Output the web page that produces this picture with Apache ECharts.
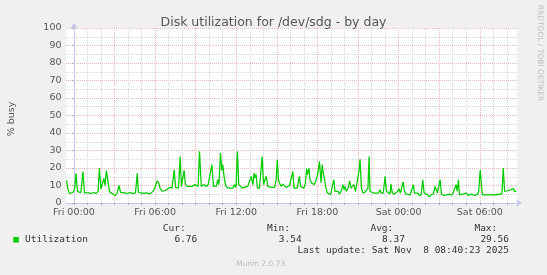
<!DOCTYPE html>
<html><head><meta charset="utf-8">
<script src="https://cdn.jsdelivr.net/npm/echarts@6/dist/echarts.min.js"></script>
<style>html,body{margin:0;padding:0;background:#f0f0f0}#c{width:547px;height:275px}</style>
</head><body><div id="c"></div>
<script>
// time in minutes from Fri 00:00, disk busy %
const minutes = [-32,-27,-20,-13,-4,0,4,9,16,22,31,40,47,53,62,71,80,89,98,107,113,120,127,133,138,144,151,158,164,173,182,191,200,207,213,222,231,240,249,258,266,273,281,286,293,
302,311,320,329,338,346,351,360,369,377,382,391,400,411,417,426,435,439,445,451,457,464,471,477,483,489,494,502,511,515,524,537,545,551,557,565,574,582,589,596,604,612,619,631,
638,643,650,656,660,666,672,678,690,697,705,712,719,725,731,737,746,756,764,771,779,786,794,799,804,808,814,823,830,835,841,845,853,860,867,875,882,890,897,902,907,912,919,927,934,941,949,956,964,971,
976,983,990,995,1000,1005,1013,1020,1027,1032,1036,1042,1047,1054,1060,1066,1072,1079,1085,1089,1096,1101,1106,1112,1116,1124,1131,1138,1146,1153,1158,1164,1171,1178,1187,1193,1198,1202,1208,1217,1223,1229,1235,1242,1249,1257,1264,1269,1275,1282,1291,1297,1304,1309,
1313,1320,1328,1337,1350,1358,1362,1372,1380,1386,1394,1402,1406,1412,1421,1427,1436,1442,1448,1454,1460,1466,1473,1480,1491,1498,1506,1510,1516,1525,1531,1540,1547,1553,1560,1569,1577,1584,1594,1602,1608,1612,1620,1624,1630,1639,1646,
1652,1658,1665,1674,1682,1689,1695,1700,1705,1710,1717,1724,1732,1741,1747,1754,1764,1771,1776,1784,1791,1795,1802,1806,1811,1821,1834,1848,1861,1874,1888,1898,1904,1910,1917,1924,1932,1939,1945,1950,1954,1962];
const busy = [13,8,5.5,5.2,6,5.5,8.5,17,6.5,5.7,6,18,5.7,5.5,6,5.5,5.7,6,5.5,6.5,20,8,7,14,10,18.5,12.5,6.5,5.5,5.2,4.2,5.5,10,6,5.5,6,5.5,5.7,6,5.5,6,5.7,17,6,5.7,
5.7,5.5,5.8,5.5,5.2,4.8,6.7,9,12.7,11.4,8.5,6.7,7,7.6,8.5,9,8.5,9.5,19,8.9,8.9,8.5,26.6,9.5,10.5,18.6,10.8,9.5,9.5,8.5,9.5,10.5,10.8,9.5,29.6,9.5,10.5,10,9.5,10.8,10.5,22,9.5,9.5,
13.3,10.5,28.6,18.6,22,15.2,10.5,8.9,8.5,9.5,8.5,10.5,8.9,29.5,10.5,9.5,8.5,8.9,8.2,9.5,8.5,15.2,10.5,17.1,14.3,16.2,8.5,8.5,9.5,26.6,10.5,12.4,15.2,9.5,8.9,8.9,8.5,8.9,13.3,24.7,13.3,11.4,9.5,10.8,10.5,8.9,9.5,10,9.5,18,
8.5,8.5,8.5,9.5,15.2,9.5,10.5,8.5,11.4,19.6,16.2,20,13.3,11.4,12,10.5,12.4,15.2,19.6,23.8,11.4,21.9,17.1,13.3,9.5,5.7,6.7,4.7,5.1,13.3,6.7,5.7,6.7,5.1,7.6,10.5,7.6,9.5,6.7,8.9,12.7,8.5,7.6,10.5,6.7,6.7,18.1,25,8.5,5.7,6.2,5.7,8.5,26.6,
6.7,5.7,5.7,5.7,5.7,7.6,5.7,5.7,15.2,6.7,5.7,5.1,10.8,5.7,5.1,5.7,6.7,8.2,5.7,6.7,12,6.7,5.1,5.7,4.7,5.7,10.5,5.7,5.1,5.7,4.4,4.7,13.3,5.7,5.1,4.7,3.54,4.7,5.1,9.5,10.5,5.7,10.8,13.3,5.1,4.4,4.7,
4.7,4.7,5.1,4.4,5.7,4.7,10.5,6.7,13.3,4.7,4.4,5.1,4.7,5.7,4.4,4.7,5.1,4.7,4.4,4.7,5.1,6.7,19,19,4.7,4.7,4.7,4.7,4.7,4.7,5.1,5.1,20,6.7,6.2,7,6.7,7.6,6.7,8.2,6.5,6.76];

const xMin = -35, xMax = 1965;
const labelMinutes = [0,360,720,1080,1440,1800];
const tickLabels = ['Fri 00:00','Fri 06:00','Fri 12:00','Fri 18:00','Sat 00:00','Sat 06:00'];
const majorMinutes = [0,180,360,540,720,900,1080,1260,1440,1620,1800];
const hourMinutes = [];
for (let m = 0; m <= 1920; m += 60) hourMinutes.push(m);

const title = 'Disk utilization for /dev/sdg - by day';
const yName = '% busy';
const seriesName = 'Utilization';
const statLabels = ['Cur:','Min:','Avg:','Max:'];
const statValues = ['6.76','3.54','8.37','29.56'];
const lastUpdate = 'Last update: Sat Nov  8 08:40:23 2025';
const credit = 'RRDTOOL / TOBI OETIKER';
const footer = 'Munin 2.0.73';

const GREEN = '#00cc00';
const RED = '#efb6b6';
const GRAY = '#d6d6d6';
const AXIS = '#c6c6ee';
const SANS = 'DejaVu Sans';
const MONO = 'DejaVu Sans Mono';

const chart = echarts.init(document.getElementById('c'), null, {renderer:'canvas'});
const grid = {left:66, top:28, width:451, height:175};

const statX = [185.7, 290, 393.3, 497.3];
const valX = [197.3, 301.7, 405, 509];
const gfx = [];
gfx.push({type:'text', x:12, y:119, rotation:Math.PI/2, style:{text:yName, font:'9.5px "'+SANS+'"', fill:'#555', align:'center', verticalAlign:'middle'}});
gfx.push({type:'text', x:539.5, y:53, rotation:-Math.PI/2, style:{text:credit, font:'7.5px "'+SANS+'"', fill:'#bdbdbd', align:'center', verticalAlign:'middle'}});
gfx.push({type:'rect', shape:{x:13.3, y:237, width:5.5, height:5.5}, style:{fill:GREEN}});
gfx.push({type:'text', x:25, y:239.5, style:{text:seriesName, font:'9.5px "'+MONO+'"', fill:'#333', align:'left', verticalAlign:'middle'}});
statLabels.forEach((s,i)=>{
  gfx.push({type:'text', x:statX[i], y:228.3, style:{text:s, font:'9.5px "'+MONO+'"', fill:'#333', align:'right', verticalAlign:'middle'}});
  gfx.push({type:'text', x:valX[i], y:239.5, style:{text:statValues[i], font:'9.5px "'+MONO+'"', fill:'#333', align:'right', verticalAlign:'middle'}});
});
gfx.push({type:'text', x:509, y:251, style:{text:lastUpdate, font:'9.5px "'+MONO+'"', fill:'#333', align:'right', verticalAlign:'middle'}});
gfx.push({type:'text', x:260.7, y:264.3, style:{text:footer, font:'7.5px "'+SANS+'"', fill:'#bbb', align:'center', verticalAlign:'middle'}});

chart.setOption({
  animation:false,
  backgroundColor:'#f0f0f0',
  title:{text:title, left:'center', top:11, textStyle:{fontFamily:SANS, fontSize:12.5, fontWeight:'normal', color:'#555'}},
  grid:Object.assign({show:true, backgroundColor:'#ffffff', borderWidth:0}, grid),
  xAxis:[{
    type:'value', min:xMin, max:xMax, gridIndex:0,
    axisLine:{show:true, onZero:false, lineStyle:{color:AXIS, width:1}, symbol:['none','arrow'], symbolSize:[6,6], symbolOffset:[0,5]},
    axisTick:{show:true, customValues:hourMinutes, length:2, lineStyle:{color:'#aaa'}},
    axisLabel:{customValues:labelMinutes, margin:5, fontFamily:SANS, fontSize:9.5, color:'#555',
      formatter:(v)=>{const i=labelMinutes.indexOf(v); return i>=0?tickLabels[i]:'';}},
    splitLine:{show:true, lineStyle:{color:GRAY, width:1, type:[1,1]}}
  },{
    type:'value', min:xMin, max:xMax, gridIndex:0, position:'bottom',
    axisLine:{show:false}, axisLabel:{show:false},
    axisTick:{show:false, customValues:majorMinutes},
    splitLine:{show:true, lineStyle:{color:RED, width:1, type:[1,1]}}
  }],
  yAxis:{
    type:'value', min:0, max:100, interval:10,
    axisLine:{show:true, lineStyle:{color:AXIS, width:1}, symbol:['none','arrow'], symbolSize:[6,6], symbolOffset:[0,5]},
    axisTick:{show:true, length:2, lineStyle:{color:'#aaa'}},
    axisLabel:{margin:4.5, fontFamily:SANS, fontSize:9.5, color:'#555'},
    splitLine:{show:true, lineStyle:{color:RED, width:1, type:[1,1]}},
    minorTick:{show:false, splitNumber:2},
    minorSplitLine:{show:true, lineStyle:{color:GRAY, width:1, type:[1,1]}}
  },
  series:[{
    name:seriesName, type:'line', xAxisIndex:0, showSymbol:false, symbol:'none',
    lineStyle:{color:GREEN, width:1.25}, z:5,
    data:minutes.map((m,i)=>[m, busy[i]])
  }],
  graphic:gfx
});
</script></body></html>
